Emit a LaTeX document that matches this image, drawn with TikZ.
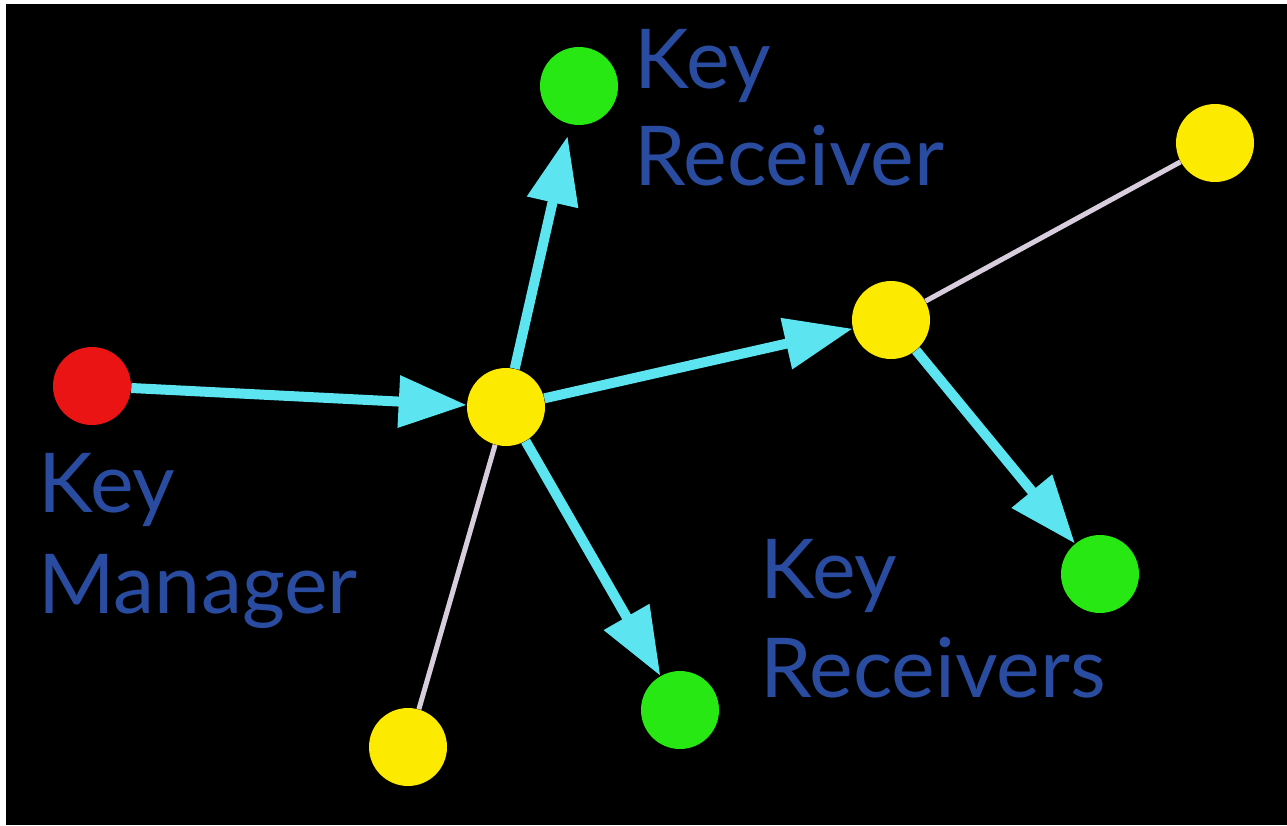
\documentclass[tikz,border=0pt]{standalone}
\usepackage{fontspec}
\setmainfont{Lato}
\usepackage{xcolor}
\usetikzlibrary{arrows.meta}
\definecolor{keyblue}{RGB}{42,76,160}
\definecolor{sendcyan}{RGB}{92,228,240}
\definecolor{linkgray}{RGB}{215,205,220}
\definecolor{dotred}{RGB}{235,20,20}
\definecolor{dotyellow}{RGB}{252,234,0}
\definecolor{dotgreen}{RGB}{40,232,20}

\begin{document}
\begin{tikzpicture}[x=0.02cm, y=-0.02cm, >={Triangle[length=1.36cm, width=1cm]},
  dot/.style={circle, minimum size=1.56cm, inner sep=0pt},
  send/.style={->, line width=0.2cm, draw=sendcyan, fill=sendcyan},
  link/.style={line width=0.1cm, draw=linkgray},
  lbl/.style={anchor=base west, inner sep=0pt, text=keyblue,
    font=\fontsize{47}{56}\selectfont}]
  % frame
  \fill[white] (0,0) rectangle (1287,825);
  \fill[black] (6,4) rectangle (1287,825);

  % nodes of the net
  \node[dot, fill=dotred] (mgr) at (92,386) {};
  \node[dot, fill=dotyellow] (hub) at (506,407) {};
  \node[dot, fill=dotgreen] (rcvtop) at (579,86) {};
  \node[dot, fill=dotyellow] (relay) at (891,320) {};
  \node[dot, fill=dotyellow] (far) at (1215,143) {};
  \node[dot, fill=dotgreen] (rcvright) at (1100,574) {};
  \node[dot, fill=dotgreen] (rcvlow) at (680,710) {};
  \node[dot, fill=dotyellow] (idle) at (408,747) {};

  % plain links
  \draw[link] (hub) -- (idle);
  \draw[link] (relay) -- (far);

  % key flow
  \draw[send] (mgr) -- (hub);
  \draw[send, shorten >=0.24cm] (hub) -- (rcvtop);
  \draw[send] (hub) -- (relay);
  \draw[send] (hub) -- (rcvlow);
  \draw[send] (relay) -- (rcvright);

  % labels
  \node[lbl] (mgrkey) at (38,512) {Key};
  \node[lbl] (mgrname) at (38,613) {Manager};
  \node[lbl] (topkey) at (634,88) {Key};
  \node[lbl] (topname) at (634,185) {Receiver};
  \node[lbl] (lowkey) at (760,598) {Key};
  \node[lbl] (lowname) at (760,697) {Receivers};
\end{tikzpicture}
\end{document}
